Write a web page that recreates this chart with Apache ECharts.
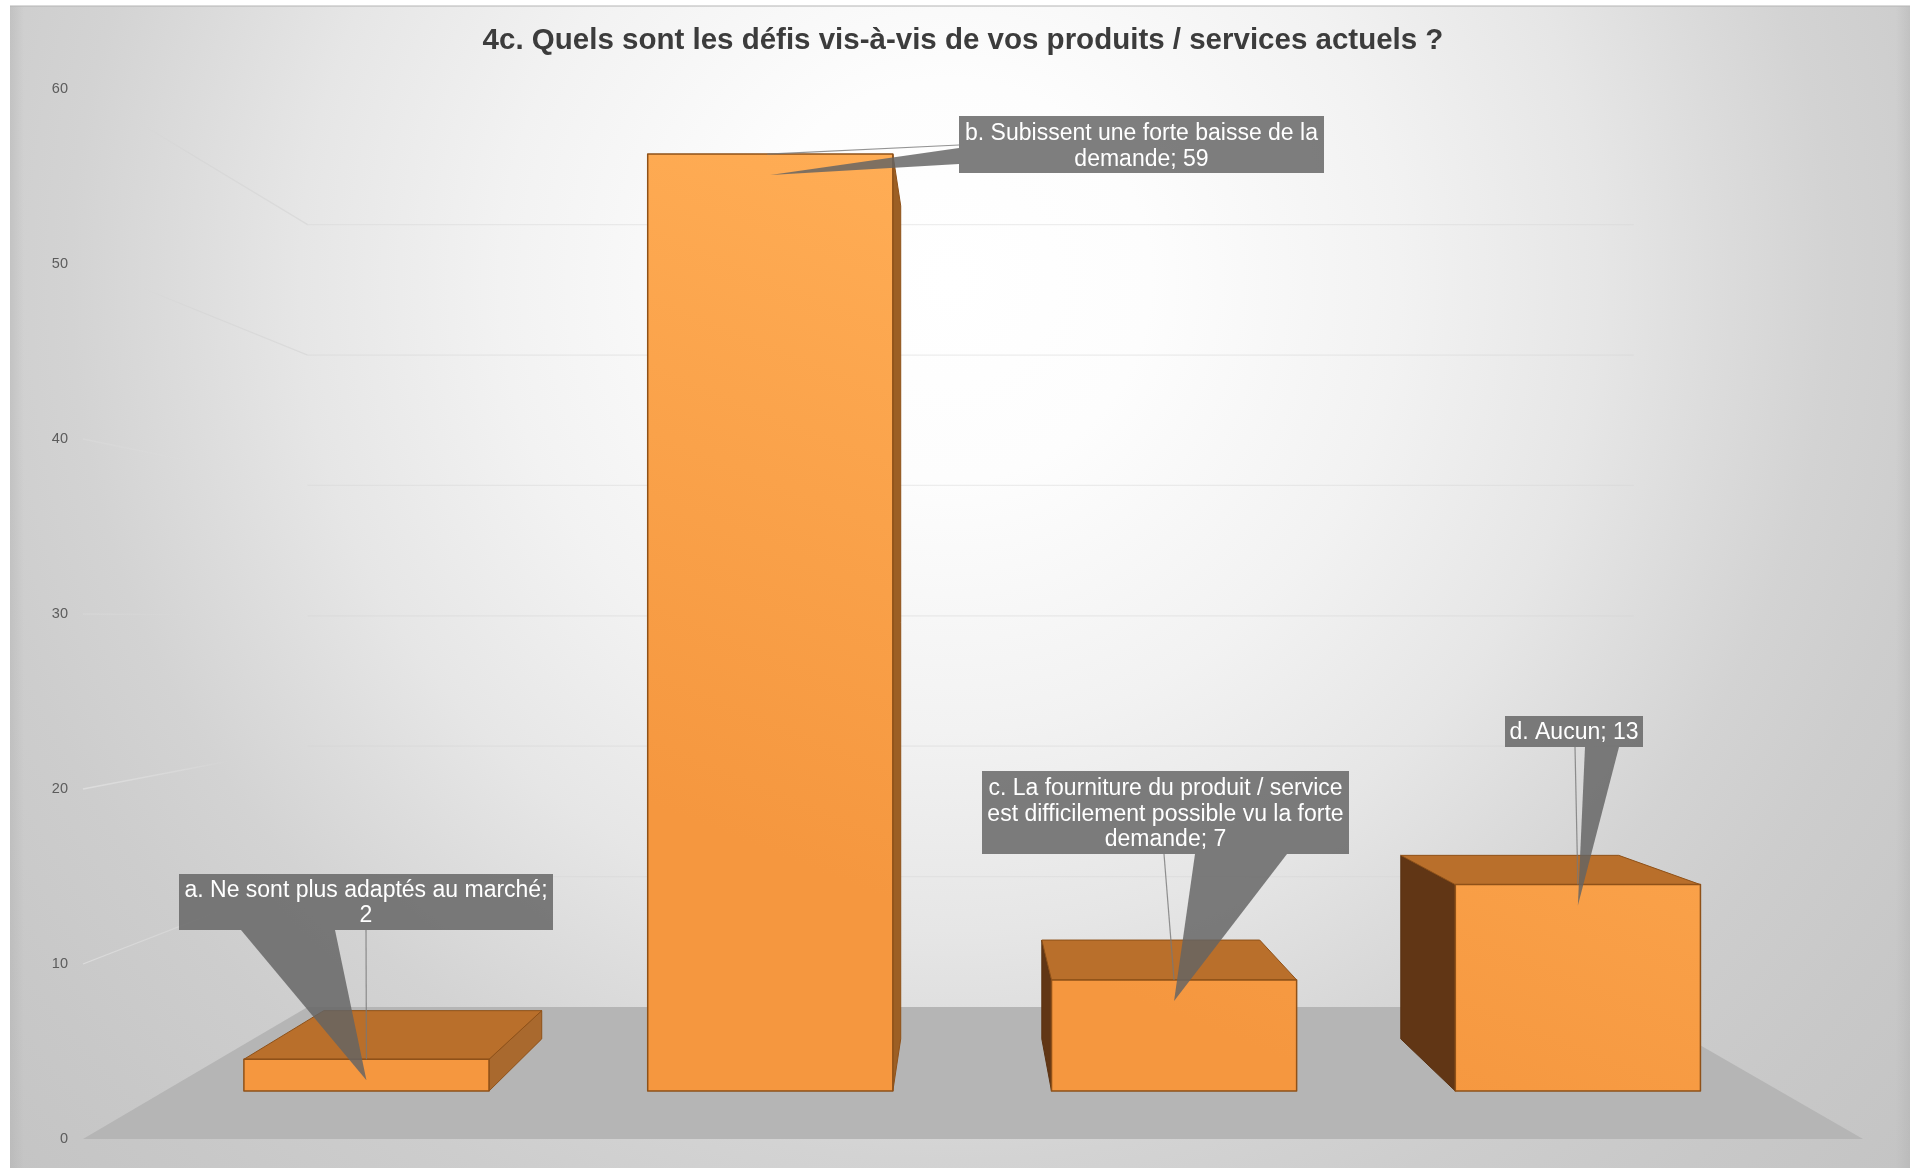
<!DOCTYPE html>
<html>
<head>
<meta charset="utf-8">
<style>html,body{margin:0;padding:0;background:#fff}#c{width:1913px;height:1168px}</style>
<script src="https://cdn.jsdelivr.net/npm/echarts@6/dist/echarts.min.js"></script>
</head>
<body>
<div id="c"></div>
<script>
const chartTitle = '4c. Quels sont les défis vis-à-vis de vos produits / services actuels ?';
const categories = ['a. Ne sont plus adaptés au marché', 'b. Subissent une forte baisse de la demande', 'c. La fourniture du produit / service est difficilement possible vu la forte demande', 'd. Aucun'];
const values = [2, 59, 7, 13];
const valueTicks = [0, 10, 20, 30, 40, 50, 60];
const calloutTexts = [
  'a. Ne sont plus adaptés au marché;\n2',
  'b. Subissent une forte baisse de la\ndemande; 59',
  'c. La fourniture du produit / service\nest difficilement possible vu la forte\ndemande; 7',
  'd. Aucun; 13'
];

// Layout of the callouts (page pixels): box, wedge base, thin leader start and end offset
const calloutLayout = [
  {box:[179,874,374,56], base:[[241,930],[335,930]], lead:[366,930]},
  {box:[959,116,365,57], base:[[959,148],[959,164]], lead:[959,145], leadEndDx:-3},
  {box:[982,771,367,83], base:[[1195,854],[1287,854]], lead:[1164,854]},
  {box:[1505,716,138,31], base:[[1585,747],[1619,747]], lead:[1575,747]}
];
const FONT = '"Liberation Sans", Arial, sans-serif';
const VP = [964, 621];           // vanishing point
const FRONT = 1 / 1.102;         // depth of bar fronts (axis plane = 1)
const BACK = 0.889 / 1.102;      // depth of bar backs
const WALL = 0.821 / 1.102;      // depth of back wall
const BAR_RATIO = 0.607;
const TIP_DROP = 21;

const proj = (p, s) => [VP[0] + s * (p[0] - VP[0]), VP[1] + s * (p[1] - VP[1])];
const poly = (points, fill, stroke, lw, z2) => ({
  type: 'polygon', silent: true, z2: z2 || 0,
  shape: {points},
  style: {fill, stroke: stroke || null, lineWidth: lw || 0, lineJoin: 'round'}
});

function renderFloor(params, api) {
  const n = categories.length;
  const l = api.coord([0, 0])[0] - api.size([1, 0])[0] / 2;
  const r = api.coord([n - 1, 0])[0] + api.size([1, 0])[0] / 2;
  const y = api.coord([0, 0])[1];
  return poly([proj([l, y], 1), proj([r, y], 1), proj([r, y], WALL), proj([l, y], WALL)], '#b5b5b5');
}

function renderGrid(params, api) {
  const v = api.value(1);
  const n = categories.length;
  const l = api.coord([0, v])[0] - api.size([1, 0])[0] / 2;
  const r = api.coord([n - 1, v])[0] + api.size([1, 0])[0] / 2;
  const y = api.coord([0, v])[1];
  const a = proj([l, y], WALL), b = proj([r, y], WALL), f = proj([l, y], 1);
  const line = (p, q, stroke) => ({
    type: 'line', silent: true, shape: {x1: p[0], y1: p[1], x2: q[0], y2: q[1]},
    style: {stroke, lineWidth: 1.3}
  });
  let stops;
  if (v >= 50) {
    stops = [{offset: 0, color: 'rgba(205,205,205,0)'}, {offset: 0.25, color: 'rgba(205,205,205,0)'}, {offset: 0.5, color: 'rgba(205,205,205,0.35)'}, {offset: 1, color: 'rgba(205,205,205,0.45)'}];
  } else if (v >= 30) {
    stops = [{offset: 0, color: 'rgba(228,228,228,0.25)'}, {offset: 0.5, color: 'rgba(228,228,228,0)'}, {offset: 1, color: 'rgba(228,228,228,0)'}];
  } else {
    stops = [{offset: 0, color: 'rgba(232,232,232,0.6)'}, {offset: 0.45, color: 'rgba(232,232,232,0.3)'}, {offset: 0.65, color: 'rgba(232,232,232,0)'}, {offset: 1, color: 'rgba(232,232,232,0)'}];
  }
  const fade = {type: 'linear', x: 0, y: 0, x2: 1, y2: 0, colorStops: stops};
  return {type: 'group', children: [line(f, a, fade), line(a, b, 'rgba(212,212,212,0.4)')]};
}

function renderBar(params, api) {
  const i = api.value(0), v = api.value(1);
  const hw = api.size([1, 0])[0] * BAR_RATIO / 2;
  const t = api.coord([i, v]), b = api.coord([i, 0]);
  const P = (x, y, s) => proj([x, y], s);
  const fl = t[0] - hw, fr = t[0] + hw;
  const ftl = P(fl, t[1], FRONT), ftr = P(fr, t[1], FRONT), fbl = P(fl, b[1], FRONT), fbr = P(fr, b[1], FRONT);
  const btl = P(fl, t[1], BACK), btr = P(fr, t[1], BACK), bbl = P(fl, b[1], BACK), bbr = P(fr, b[1], BACK);
  const edge = '#8f5118';
  const children = [];
  if (fbl[0] > VP[0]) {
    children.push(poly([ftl, btl, bbl, fbl], '#613615', '#5a3212', 1));
  } else {
    children.push(poly([ftr, btr, bbr, fbr], v > 30 ? '#9c5f24' : '#a9692e', edge, 1));
  }
  if (ftl[1] > VP[1]) {
    children.push(poly([ftl, btl, btr, ftr], '#b96f2b', edge, 1));
  }
  const fill = {type: 'linear', global: true, x: 900, y: 154, x2: 640, y2: 800, colorStops: [
    {offset: 0, color: '#ffad55'}, {offset: 1, color: '#f5973f'}]};
  children.push(poly([ftl, ftr, fbr, fbl], fill, edge, 1.5));
  return {type: 'group', children};
}

function renderCallout(params, api) {
  const i = api.value(0), v = api.value(1);
  const L = calloutLayout[i];
  const c = proj(api.coord([i, v]), FRONT);
  const tip = [c[0], c[1] + TIP_DROP];
  const gray = 'rgba(100,100,100,0.83)';
  const [x, y, w, h] = L.box;
  return {type: 'group', children: [
    {type: 'line', silent: true, shape: {x1: L.lead[0], y1: L.lead[1], x2: c[0] + (L.leadEndDx || 0), y2: c[1]},
     style: {stroke: 'rgba(120,120,120,0.8)', lineWidth: 1.2}},
    poly([L.base[0], L.base[1], tip], gray),
    {type: 'rect', silent: true, shape: {x, y, width: w, height: h}, style: {fill: gray}},
    {type: 'text', silent: true, style: {
      x: x + w / 2, y: y + h / 2 + (i === 0 || i === 3 ? 1 : 2), text: calloutTexts[i], fill: '#ffffff',
      fontFamily: FONT, fontSize: 23, lineHeight: 25.6, align: 'center', verticalAlign: 'middle'}}
  ]};
}

const chart = echarts.init(document.getElementById('c'), null, {renderer: 'canvas'});
const R = 1300;
chart.setOption({
  animation: false,
  backgroundColor: '#ffffff',
  graphic: {elements: [
    {type: 'rect', z: -10, silent: true, shape: {x: 10, y: 6, width: 1900, height: 1162},
     style: {fill: {type: 'radial', global: true, x: 950, y: 280, r: R, colorStops: [
       [0, '#ffffff'], [200, '#fdfdfd'], [450, '#f2f2f2'], [650, '#e6e6e6'], [770, '#dcdcdc'],
       [880, '#d3d3d3'], [1000, '#cdcdcd'], [1150, '#c8c8c8'], [1300, '#c4c4c4']
     ].map(s => ({offset: s[0] / R, color: s[1]}))}}},
    {type: 'rect', z: -9, silent: true, shape: {x: 10, y: 6, width: 14, height: 1162},
     style: {fill: {type: 'linear', x: 0, y: 0, x2: 1, y2: 0, colorStops: [{offset: 0, color: 'rgba(170,170,170,0.35)'}, {offset: 1, color: 'rgba(170,170,170,0)'}]}}},
    {type: 'rect', z: -9, silent: true, shape: {x: 1896, y: 6, width: 14, height: 1162},
     style: {fill: {type: 'linear', x: 0, y: 0, x2: 1, y2: 0, colorStops: [{offset: 0, color: 'rgba(170,170,170,0)'}, {offset: 1, color: 'rgba(170,170,170,0.35)'}]}}},
    {type: 'line', z: -8, silent: true, shape: {x1: 10, y1: 6, x2: 1910, y2: 6}, style: {stroke: '#b4b4b4', lineWidth: 1}}
  ]},
  title: {
    text: chartTitle, left: 958, top: 36, textAlign: 'center', textVerticalAlign: 'middle',
    textStyle: {fontFamily: FONT, fontWeight: 'bold', fontSize: 29.5, color: '#3c3c3c'}
  },
  tooltip: {show: false},
  grid: {left: 83, right: 50, top: 89, height: 1050},
  xAxis: {type: 'category', data: categories, show: false},
  yAxis: {
    type: 'value', min: 0, max: 60, interval: 10,
    axisLine: {show: false}, axisTick: {show: false}, splitLine: {show: false},
    axisLabel: {color: '#5c5c5c', fontSize: 14.5, fontFamily: FONT, margin: 15, padding: [2, 0, 0, 0]}
  },
  series: [
    {type: 'custom', silent: true, z: 1, renderItem: renderFloor, data: [[0, 0]]},
    {type: 'custom', silent: true, z: 2, renderItem: renderGrid, data: valueTicks.slice(1).map(t => [0, t])},
    {type: 'custom', silent: true, z: 3, renderItem: renderBar, data: values.map((v, i) => [i, v])},
    {type: 'custom', silent: true, z: 4, renderItem: renderCallout, data: values.map((v, i) => [i, v])}
  ]
});
</script>
</body>
</html>
